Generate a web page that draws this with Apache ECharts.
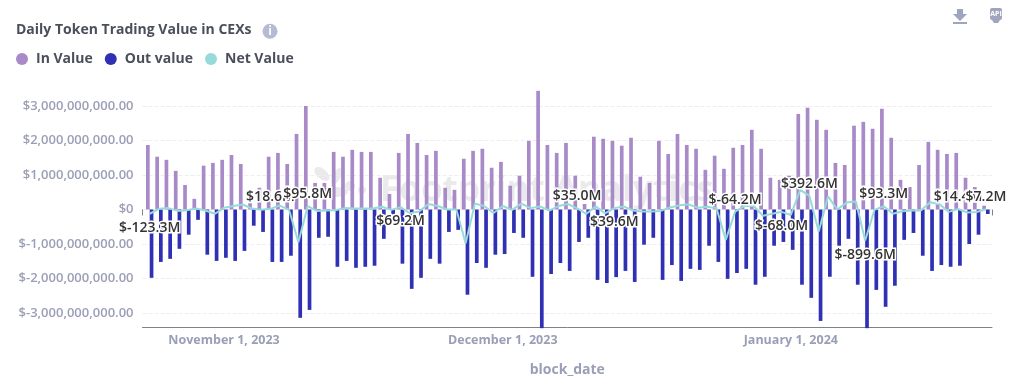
<!DOCTYPE html>
<html>
<head>
<meta charset="utf-8">
<style>html,body{margin:0;padding:0;background:#fff}#c{width:1019px;height:392px}</style>
<script src="https://cdn.jsdelivr.net/npm/echarts@6/dist/echarts.min.js"></script>
</head>
<body>
<div id="c"></div>
<script>
// All values in billions of USD
var firstDate = '2023-10-24';
var inValues = [1.87,1.53,1.44,1.12,.71,.31,1.27,1.35,1.44,1.58,
  1.32,.23,.63,1.53,1.64,1.32,2.19,3.0,.77,.77,
  1.67,1.53,1.73,1.67,1.67,.92,.45,1.64,2.19,1.93,
  1.58,1.70,.63,.57,1.47,1.70,1.76,1.21,1.38,.69,
  .98,1.99,3.44,1.87,1.64,1.93,.98,.16,2.11,2.05,
  1.99,1.85,2.08,.95,.77,1.99,1.61,2.19,1.87,1.76,
  1.15,1.56,1.18,1.79,1.87,2.31,1.76,.92,.86,.98,
  2.77,2.95,2.60,2.31,1.35,1.29,2.43,2.54,2.34,2.92,
  2.08,.86,.65,1.29,1.96,1.73,1.61,1.64,.92,.65,.11];
var outValues = [-1.98,-1.52,-1.43,-1.14,-.73,-.30,-1.31,-1.49,-1.40,-1.49,
  -1.20,-.47,-.65,-1.52,-1.52,-1.34,-3.14,-2.91,-.82,-.79,
  -1.66,-1.49,-1.69,-1.66,-1.63,-.85,-.15,-1.57,-2.30,-1.98,
  -1.43,-1.57,-.65,-.59,-2.47,-1.55,-1.69,-1.31,-1.29,-.68,
  -.82,-1.95,-3.44,-1.87,-1.55,-1.78,-.94,-.82,-2.04,-2.13,
  -1.96,-1.78,-2.10,-1.02,-.82,-2.04,-1.61,-2.07,-1.72,-1.75,
  -1.05,-1.52,-2.01,-1.84,-1.72,-2.18,-1.95,-1.05,-.94,-1.17,
  -2.18,-2.56,-3.23,-1.95,-1.05,-.85,-2.18,-3.44,-2.33,-2.82,
  -2.21,-.88,-.68,-1.34,-1.78,-1.61,-1.66,-1.63,-1.0,-.73,-.13];
var netValues = [-.1233,.02,.04,-.04,-.02,.03,-.03,-.125,.05,.10,
  .145,.03,-.01,.0186,.115,-.01,-.95,.0958,-.04,-.03,
  -.02,.04,.03,.03,.03,.08,-.01,.0692,-.11,-.06,
  .16,.10,0,0,-.98,.17,.10,-.10,.10,-.01,
  .17,.04,.09,-.03,.10,.16,.035,-.125,.09,-.11,
  .0396,.09,-.03,-.06,-.06,-.04,.06,.12,.15,.05,
  .08,.04,-.88,-.0642,.10,.10,-.18,-.125,-.068,-.16,
  .57,.3926,-.64,.38,0,.20,.23,-.8996,-.01,.0933,
  -.125,-.05,-.03,-.03,.21,.155,-.07,.0144,-.09,-.07,.0072];
var labelsAbove = [13,17,46,63,71,79,87,90];
var labelsBelow = [0,27,50,68,77];
var tickDates = ['2023-11-01','2023-12-01','2024-01-01'];
var tickLabels = ['November 1, 2023','December 1, 2023','January 1, 2024'];

var DAY = 86400000, FONT = '"Open Sans", sans-serif';
var start = new Date(firstDate + 'T00:00:00').getTime();
function dateAt(i){ return start + i * DAY; }
function B(v){ return v * 1e9; }
function fmtDay(t){ var d=new Date(t),m=d.getMonth()+1,x=d.getDate();
  return d.getFullYear()+'-'+(m<10?'0':'')+m+'-'+(x<10?'0':'')+x; }

var netData = netValues.map(function(v,i){
  var above = labelsAbove.indexOf(i)>=0, below = labelsBelow.indexOf(i)>=0;
  var item = {value:[dateAt(i),B(v)]};
  if(above) item.label = {show:true,position:'top',distance:5};
  if(below) item.label = {show:true,position:'bottom',distance:7};
  return item;
});

var chart = echarts.init(document.getElementById('c'),null,{renderer:'canvas'});
var axisGray = '#9a9fb6';
chart.setOption({
  animation:false,
  textStyle:{fontFamily:FONT},
  title:{text:'Daily Token Trading Value in CEXs',left:16,top:23,padding:0,
    textStyle:{fontFamily:FONT,fontSize:14,fontWeight:'bold',color:'#4b4f5c'}},
  legend:{left:16,top:52,padding:0,icon:'circle',itemWidth:12,itemHeight:12,itemGap:12,
    data:['In Value','Out value','Net Value'],
    textStyle:{fontFamily:FONT,fontSize:14,fontWeight:'bold',color:'#4b4f5c',padding:[0,0,0,3]}},
  grid:{left:142.5,right:27,top:71.5,height:276,containLabel:false},
  xAxis:[{
    type:'time',position:'bottom',offset:-20,
    min:start-0.377*DAY,max:dateAt(90)+0.252*DAY,splitNumber:3,
    axisLine:{onZero:false,lineStyle:{color:'#80828a',width:1}},
    axisTick:{show:false},splitLine:{show:false},
    axisLabel:{showMinLabel:false,showMaxLabel:false,hideOverlap:false,margin:6,
      color:axisGray,fontFamily:FONT,fontSize:12.5,fontWeight:'bold',
      formatter:function(v){var i=tickDates.indexOf(fmtDay(v));return i>=0?tickLabels[i]:'';}},
    name:'block_date',nameLocation:'middle',nameGap:36,
    nameTextStyle:{color:axisGray,fontFamily:FONT,fontSize:14,fontWeight:'bold'}
  },{
    type:'value',position:'bottom',offset:-20,min:0,max:1,interval:1,
    axisLine:{show:false},axisLabel:{show:false},splitLine:{show:false},
    axisTick:{show:true,length:6,lineStyle:{color:'#80828a'}}
  }],
  yAxis:{type:'value',min:-4e9,max:4e9,interval:1e9,
    axisLine:{show:false},axisTick:{show:false},
    splitLine:{show:true,showMinLine:false,showMaxLine:false,lineStyle:{color:'#eeeeee',type:'dashed'}},
    axisLabel:{showMinLabel:false,showMaxLabel:false,margin:9,color:axisGray,fontFamily:FONT,fontSize:13,fontWeight:600,
      formatter:function(v){ if(v===0) return '$0';
        var s=Math.abs(v).toString().replace(/\B(?=(\d{3})+$)/g,',');
        return '$'+(v<0?'-':'')+s+'.00'; }}
  },
  series:[
    {name:'In Value',type:'bar',barWidth:3.7,barGap:'0%',itemStyle:{color:'#a98ac9'},
      data:inValues.map(function(v,i){return [dateAt(i),B(v)];})},
    {name:'Out value',type:'bar',barWidth:3.7,barGap:'0%',itemStyle:{color:'#3030b5'},
      data:outValues.map(function(v,i){return [dateAt(i),B(v)];})},
    {name:'Net Value',type:'line',z:5,showSymbol:true,symbol:'circle',symbolSize:0,
      lineStyle:{color:'#96dbd9',width:2},itemStyle:{color:'#96dbd9'},
      label:{show:false,color:'#333333',fontFamily:FONT,fontSize:14,fontWeight:600,
        textBorderColor:'#ffffff',textBorderWidth:3,
        formatter:function(p){return '$'+(p.value[1]/1e6).toFixed(1)+'M';}},
      data:netData}
  ],
  graphic:[
    {type:'circle',shape:{cx:270,cy:31.3,r:7.5},style:{fill:'#b7bad4'}},
    {type:'text',x:270,y:31.3,style:{text:'i',fill:'#fff',font:'bold 12px '+FONT,align:'center',verticalAlign:'middle'}},
    {type:'polygon',shape:{points:[[957,9],[963,9],[963,14],[967,14],[960,21],[953,14],[957,14]]},style:{fill:'#a0a4bc'}},
    {type:'rect',shape:{x:953,y:22,width:14,height:2},style:{fill:'#a0a4bc'}},
    {type:'rect',shape:{x:990,y:8,width:12,height:12,r:2},style:{fill:'#a0a4bc'}},
    {type:'polygon',shape:{points:[[992,20],[1000,20],[998,23],[994,23]]},style:{fill:'#a0a4bc'}},
    {type:'text',x:996,y:14,style:{text:'API',fill:'#fff',font:'bold 7px '+FONT,align:'center',verticalAlign:'middle'}},
    {type:'group',silent:true,z:50,children:[
      {type:'ellipse',shape:{cx:322,cy:174,rx:9,ry:5},rotation:-0.7,originX:322,originY:174,style:{fill:'rgba(170,170,180,0.25)'}},
      {type:'ellipse',shape:{cx:337,cy:176,rx:9,ry:4},rotation:1.1,originX:337,originY:176,style:{fill:'rgba(170,170,180,0.25)'}},
      {type:'ellipse',shape:{cx:350,cy:186,rx:5,ry:5},style:{fill:'rgba(170,170,180,0.25)'}},
      {type:'ellipse',shape:{cx:335,cy:192,rx:13,ry:5},style:{fill:'rgba(170,170,180,0.25)'}},
      {type:'ellipse',shape:{cx:362,cy:190,rx:4,ry:4},style:{fill:'rgba(170,170,180,0.25)'}},
      {type:'text',x:380,y:191,style:{text:'Footprint Analytics',fill:'rgba(170,170,180,0.25)',font:'bold 35px '+FONT,align:'left',verticalAlign:'middle'}}
    ]}
  ]
});
</script>
</body>
</html>
